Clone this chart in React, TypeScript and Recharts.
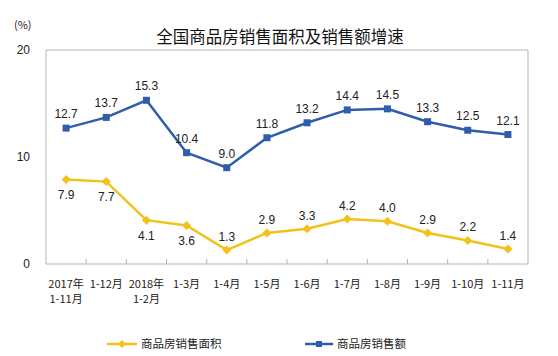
import React from 'react';
import { LineChart, Line, XAxis, YAxis, LabelList, Legend } from 'recharts';

const categories = ['2017年\n1-11月', '1-12月', '2018年\n1-2月', '1-3月', '1-4月', '1-5月', '1-6月', '1-7月', '1-8月', '1-9月', '1-10月', '1-11月'];
const areaGrowth = [7.9, 7.7, 4.1, 3.6, 1.3, 2.9, 3.3, 4.2, 4.0, 2.9, 2.2, 1.4];
const amountGrowth = [12.7, 13.7, 15.3, 10.4, 9.0, 11.8, 13.2, 14.4, 14.5, 13.3, 12.5, 12.1];
const yTicks = [0, 10, 20];

const data = categories.map((c, i) => ({ cat: c, area: areaGrowth[i], amount: amountGrowth[i] }));

const BLUE = '#2E5EAA';
const YELLOW = '#F2C11A';
const GRAY = '#B4B4B4';
const FONT = '"Noto Sans CJK SC", "Noto Sans", sans-serif';
const NUMFONT = 'Arial, "Liberation Sans", sans-serif';
const AREA_LABEL_ABOVE_FROM = 4;

const XTick = (props: any) => {
  const { x, y, payload, index } = props;
  const lines = String(payload.value).split('\n');
  const half = typeof payload.offset === 'number' && payload.offset > 0 ? payload.offset : 20;
  const axisY = y - 8;
  return (
    <g>
      {index !== 0 && (
        <line x1={x - half} y1={axisY} x2={x - half} y2={axisY - 5} stroke={GRAY} strokeWidth={1} />
      )}
      <text x={x} y={y + 16} textAnchor="middle" fontSize={11} fill="#222" fontFamily={FONT}>
        {lines.map((l, i) => (
          <tspan key={i} x={x} dy={i === 0 ? 0 : 15}>{l}</tspan>
        ))}
      </text>
    </g>
  );
};

const AreaLabel = (props: any) => {
  const { x, y, value, index } = props;
  const above = index >= AREA_LABEL_ABOVE_FROM;
  return (
    <text x={x} y={above ? y - 9 : y + 19.5} textAnchor="middle" fontSize={12} fill="#222" fontFamily={NUMFONT}>
      {Number(value).toFixed(1)}
    </text>
  );
};

const Square = (props: any) => {
  const { cx, cy } = props;
  return <rect x={cx - 3.5} y={cy - 3.5} width={7} height={7} fill={BLUE} />;
};

const Diamond = (props: any) => {
  const { cx, cy } = props;
  return <path d={`M${cx},${cy - 4.5}L${cx + 4.5},${cy}L${cx},${cy + 4.5}L${cx - 4.5},${cy}Z`} fill={YELLOW} />;
};

const LegendContent = () => (
  <svg width={558} height={20} style={{ display: 'block' }}>
    <g>
      <line x1={107} y1={10} x2={137} y2={10} stroke={YELLOW} strokeWidth={2.5} />
      <path d="M122,6L126,10L122,14L118,10Z" fill={YELLOW} />
      <text x={141} y={14} fontSize={11.5} fill="#222" fontFamily={FONT}>商品房销售面积</text>
    </g>
    <g>
      <line x1={305} y1={10} x2={333} y2={10} stroke={BLUE} strokeWidth={2.5} />
      <rect x={316} y={7} width={6} height={6} fill={BLUE} />
      <text x={337} y={14} fontSize={11.5} fill="#222" fontFamily={FONT}>商品房销售额</text>
    </g>
  </svg>
);

export default function App() {
  return (
    <div style={{ position: 'absolute', left: 0, top: 0, width: 558, height: 356, background: '#fff' }}>
      <LineChart width={558} height={356} data={data} margin={{ top: 49, right: 29, bottom: 2, left: 0 }}>
        <text x={280} y={43} textAnchor="middle" fontSize={16.5} fill="#111" fontFamily={FONT}>全国商品房销售面积及销售额增速</text>
        <text x={14} y={29} fontSize={11} fill="#222" fontFamily={FONT}>(%)</text>
        <XAxis dataKey="cat" scale="band" height={70} interval={0} tick={<XTick />} tickLine={false} axisLine={{ stroke: GRAY, strokeWidth: 1 }} stroke={GRAY} />
        <XAxis xAxisId="top" dataKey="cat" scale="band" orientation="top" height={1} tick={false} tickLine={false} axisLine={{ stroke: GRAY, strokeWidth: 1 }} stroke={GRAY} />
        <YAxis width={46} domain={[0, 20]} ticks={yTicks} tickLine={false} axisLine={{ stroke: GRAY, strokeWidth: 1 }} stroke={GRAY} tick={{ fontSize: 12, fill: '#222', fontFamily: NUMFONT }} tickMargin={10} />
        <YAxis yAxisId="right" orientation="right" width={1} domain={[0, 20]} tick={false} tickLine={false} axisLine={{ stroke: GRAY, strokeWidth: 1 }} stroke={GRAY} />
        <Legend verticalAlign="bottom" content={<LegendContent />} />
        <Line dataKey="amount" stroke={BLUE} strokeWidth={2.5} dot={<Square />} isAnimationActive={false}>
          <LabelList dataKey="amount" position="top" offset={10} fontSize={12} fill="#222" fontFamily={NUMFONT} formatter={(v: any) => Number(v).toFixed(1)} />
        </Line>
        <Line dataKey="area" stroke={YELLOW} strokeWidth={2.5} dot={<Diamond />} isAnimationActive={false}>
          <LabelList dataKey="area" content={<AreaLabel />} />
        </Line>
      </LineChart>
    </div>
  );
}
